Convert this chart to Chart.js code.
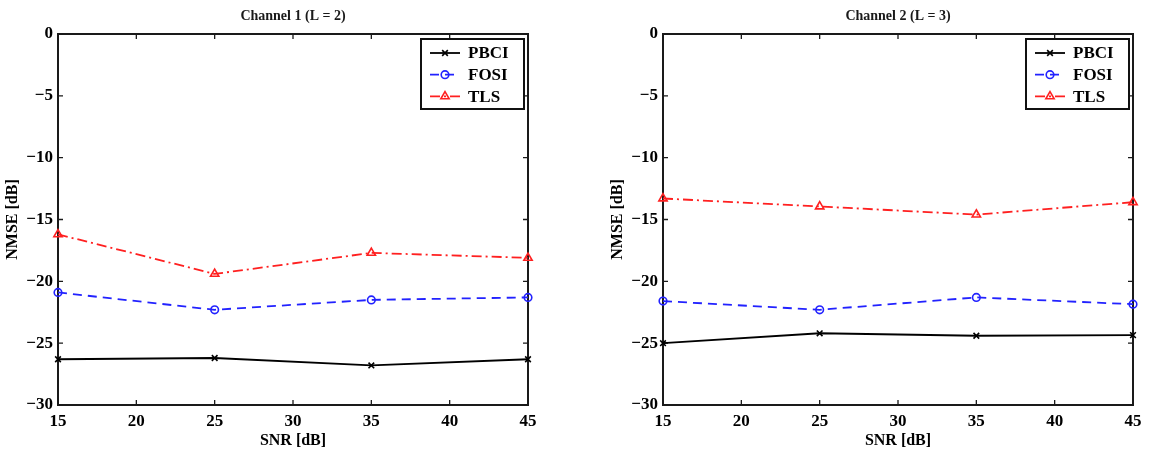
<!DOCTYPE html>
<html><head><meta charset="utf-8">
<script src="https://cdn.jsdelivr.net/npm/chart.js@4.4.0/dist/chart.umd.min.js"></script>
<style>
html,body{margin:0;padding:0;background:#fff;overflow:hidden;width:1149px;height:456px}
.c{position:absolute;top:0;height:456px}
#w1{left:0;width:570px}
#w2{left:605px;width:544px}
</style></head><body>
<div class="c" id="w1"><canvas id="c1"></canvas></div>
<div class="c" id="w2"><canvas id="c2"></canvas></div>
<script>
// ---- data ----
const snr = [15, 25, 35, 45];
const xTicks = [15, 20, 25, 30, 35, 40, 45];
const yTicks = [0, -5, -10, -15, -20, -25, -30];
const seriesNames = ['PBCI', 'FOSI', 'TLS'];
const ch1_pbci = [-26.3, -26.2, -26.8, -26.3];
const ch1_fosi = [-20.9, -22.3, -21.5, -21.3];
const ch1_tls  = [-16.2, -19.4, -17.7, -18.1];
const ch2_pbci = [-25.0, -24.2, -24.4, -24.35];
const ch2_fosi = [-21.6, -22.3, -21.3, -21.85];
const ch2_tls  = [-13.3, -13.95, -14.6, -13.6];
const titles = ['Channel 1 (L = 2)', 'Channel 2 (L = 3)'];
const xTitle = 'SNR [dB]';
const yTitle = 'NMSE [dB]';

const FONT = "'Liberation Serif', 'Times New Roman', serif";
const styles = [
  {color:'#000000', dash:[], point:'crossRot', r:4, fill:'rgba(0,0,0,0)'},
  {color:'#2222ff', dash:[9,6], point:'circle', r:3.8, fill:'rgba(0,0,0,0)'},
  {color:'#ff2020', dash:[10,4,2,4], point:'triangle', r:4.8, fill:'rgba(0,0,0,0)'}
];

function makeDatasets(arrs){
  return arrs.map((vals, i) => ({
    label: seriesNames[i],
    data: snr.map((x, k) => ({x: x, y: vals[k]})),
    borderColor: styles[i].color,
    backgroundColor: styles[i].fill,
    borderWidth: 1.8,
    borderDash: styles[i].dash,
    pointStyle: styles[i].point,
    pointRadius: styles[i].r,
    pointBorderWidth: 1.6,
    pointBorderColor: styles[i].color,
    pointBackgroundColor: styles[i].fill,
    tension: 0,
    clip: false
  }));
}

const framePlugin = {
  id: 'frame',
  beforeDatasetsDraw(chart){
    const {ctx, chartArea: a, scales} = chart;
    ctx.save();
    ctx.strokeStyle = '#1a1a1a';
    ctx.lineWidth = 2;
    ctx.setLineDash([]);
    ctx.strokeRect(a.left, a.top, a.right - a.left, a.bottom - a.top);
    const t = 5;
    ctx.lineWidth = 1.3;
    ctx.beginPath();
    scales.x.ticks.forEach(tk => {
      const px = scales.x.getPixelForValue(tk.value);
      ctx.moveTo(px, a.bottom); ctx.lineTo(px, a.bottom - t);
      ctx.moveTo(px, a.top); ctx.lineTo(px, a.top + t);
    });
    scales.y.ticks.forEach(tk => {
      const py = scales.y.getPixelForValue(tk.value);
      ctx.moveTo(a.left, py); ctx.lineTo(a.left + t, py);
      ctx.moveTo(a.right, py); ctx.lineTo(a.right - t, py);
    });
    ctx.stroke();
    ctx.restore();
  }
};

const legendPlugin = {
  id: 'boxLegend',
  afterDatasetsDraw(chart){
    const {ctx, chartArea: a} = chart;
    const w = 103, h = 70;
    const x0 = a.right - 4 - w, y0 = a.top + 5;
    ctx.save();
    ctx.fillStyle = '#fff';
    ctx.fillRect(x0, y0, w, h);
    ctx.setLineDash([]);
    ctx.lineWidth = 2;
    ctx.strokeStyle = '#111';
    ctx.strokeRect(x0, y0, w, h);
    chart.data.datasets.forEach((ds, i) => {
      const y = y0 + 14 + i * 21.7;
      ctx.strokeStyle = ds.borderColor;
      ctx.lineWidth = ds.borderWidth;
      ctx.setLineDash(ds.borderDash || []);
      ctx.beginPath();
      ctx.moveTo(x0 + 9, y); ctx.lineTo(x0 + 39, y);
      ctx.stroke();
      ctx.setLineDash([]);
      ctx.fillStyle = ds.pointBackgroundColor;
      ctx.strokeStyle = ds.pointBorderColor;
      ctx.lineWidth = ds.pointBorderWidth;
      if (Chart.helpers && Chart.helpers.drawPoint) {
        Chart.helpers.drawPoint(ctx, {pointStyle: ds.pointStyle, radius: ds.pointRadius, borderWidth: ds.pointBorderWidth, rotation: 0}, x0 + 24, y);
      }
      ctx.fillStyle = '#000';
      ctx.font = 'bold 17px ' + FONT;
      ctx.textBaseline = 'middle';
      ctx.textAlign = 'left';
      ctx.fillText(ds.label, x0 + 47, y + 1);
    });
    ctx.restore();
  }
};

function makeChart(id, title, arrs, padRight){
  return new Chart(document.getElementById(id), {
    type: 'line',
    data: { datasets: makeDatasets(arrs) },
    plugins: [framePlugin, legendPlugin],
    options: {
      responsive: true,
      maintainAspectRatio: false,
      animation: false,
      events: [],
      layout: { padding: {left: 0, right: padRight, top: 0, bottom: 0} },
      plugins: {
        legend: { display: false },
        tooltip: { enabled: false },
        title: {
          display: true,
          text: title,
          fullSize: false,
          color: '#1a1a1a',
          font: {family: FONT, size: 14, weight: 'bold', lineHeight: 1.2},
          padding: {top: 7.6, bottom: 9.6}
        }
      },
      scales: {
        x: {
          type: 'linear',
          min: 15, max: 45,
          afterBuildTicks: s => { s.ticks = xTicks.map(v => ({value: v})); },
          afterFit: s => { s.height = 51; },
          grid: { display: false, drawTicks: false },
          border: { display: false },
          ticks: {
            color: '#000', padding: 6, maxRotation: 0, autoSkip: false,
            font: {family: FONT, size: 17, weight: 'bold', lineHeight: 1.2}
          },
          title: {
            display: true, text: xTitle, color: '#000',
            font: {family: FONT, size: 16, weight: 'bold', lineHeight: 1.2},
            padding: {top: 0, bottom: 5.4}
          }
        },
        y: {
          type: 'linear',
          min: -30, max: 0,
          afterBuildTicks: s => { s.ticks = yTicks.map(v => ({value: v})); },
          afterFit: s => { s.width = 58; },
          grid: { display: false, drawTicks: false },
          border: { display: false },
          ticks: {
            color: '#000', padding: 5, autoSkip: false,
            font: {family: FONT, size: 17, weight: 'bold', lineHeight: 1.2},
            callback: v => v < 0 ? '\u2212' + Math.abs(v) : String(v)
          },
          title: {
            display: true, text: yTitle, color: '#000',
            font: {family: FONT, size: 16, weight: 'bold', lineHeight: 1.2},
            padding: {top: 3, bottom: 0}
          }
        }
      }
    }
  });
}

makeChart('c1', titles[0], [ch1_pbci, ch1_fosi, ch1_tls], 42);
makeChart('c2', titles[1], [ch2_pbci, ch2_fosi, ch2_tls], 16);
</script>
</body></html>
